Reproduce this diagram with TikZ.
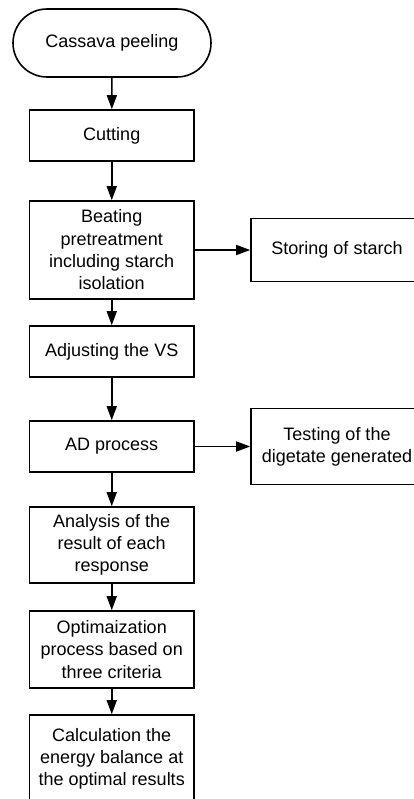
\documentclass[tikz,border=0pt]{standalone}
\usepackage{fontspec}
\setmainfont{Liberation Sans}
\usetikzlibrary{arrows.meta}
\begin{document}
\begin{tikzpicture}[x=1pt,y=-1pt,
  box/.style={draw,line width=1.6pt,fill=white,align=center,inner sep=2pt,
    font=\fontsize{18}{22.3}\selectfont,minimum width=164.5pt},
  sidebox/.style={box,minimum width=172pt},
  flow/.style={line width=1.6pt,-{Triangle[length=14pt,width=10pt]}}]
\useasboundingbox (0,0) rectangle (414,799);
% main column
\node[box,rounded corners=34pt,minimum width=198pt,minimum height=68pt] (peel) at (112,43) {Cassava peeling};
\node[box,minimum height=51pt] (cut) at (111.75,135.5) {Cutting};
\node[box,minimum height=98pt] (beat) at (111.75,250) {Beating\\pretreatment\\including starch\\isolation};
\node[box,minimum height=51pt] (adj) at (111.75,351.5) {Adjusting the VS};
\node[box,minimum height=51pt] (ad) at (111.75,446.5) {AD process};
\node[box,minimum height=76pt] (ana) at (111.75,545) {Analysis of the\\result of each\\response};
\node[box,minimum height=77pt] (opt) at (111.75,649.5) {Optimaization\\process based on\\three criteria};
% last box runs past the lower edge; extra text depth lifts its lines
\node[box,minimum height=96pt,text depth=12pt] (calc) at (111.75,763) {Calculation the\\energy balance at\\the optimal results};
% side branches
\node[sidebox,minimum height=63pt] (store) at (337,250) {Storing of starch};
\node[sidebox,minimum height=76pt] (test) at (337,446.5) {Testing of the\\digetate generated};
% connectors
\draw[flow] (peel) -- (cut);
\draw[flow] (cut) -- (beat);
\draw[flow] (beat) -- (adj);
\draw[flow] (adj) -- (ad);
\draw[flow] (ad) -- (ana);
\draw[flow] (ana) -- (opt);
\draw[flow] (opt) -- (calc);
\draw[flow] (beat.east) -- (store.west);
\draw[flow] (ad.east) -- (test.west);
\end{tikzpicture}
\end{document}
